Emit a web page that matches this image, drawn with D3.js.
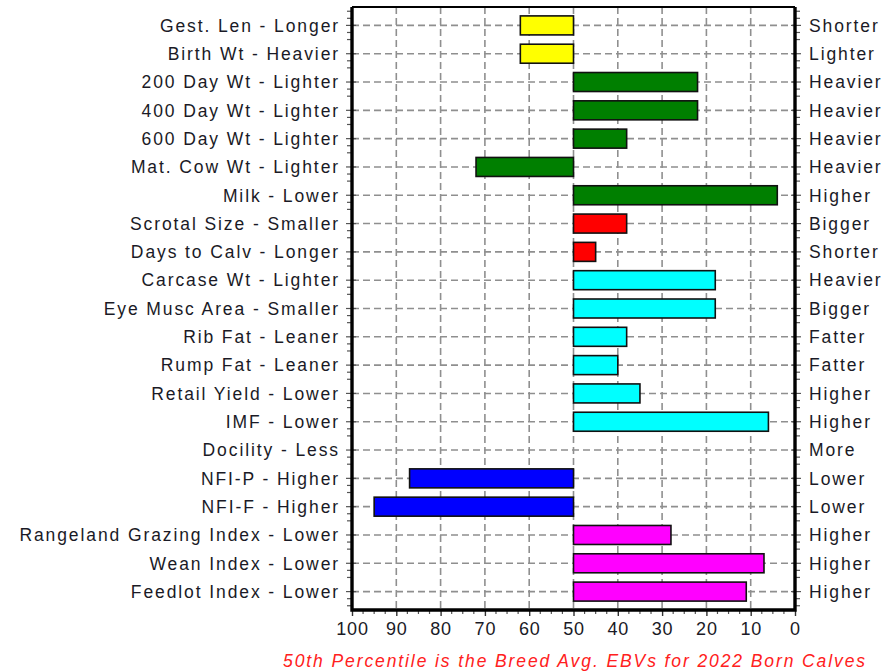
<!DOCTYPE html>
<html>
<head>
<meta charset="utf-8">
<script src="https://cdn.jsdelivr.net/npm/d3@7"></script>
<style>
  body { margin: 0; background: #fff; }
  svg { display: block; }
  text { font-family: "Liberation Sans", Arial, sans-serif; fill: #1a1a26; }
</style>
</head>
<body>
<svg id="chart" width="894" height="671"></svg>
<script>
// trait names on the left (low side) and right (high side)
var traits = ["Gest. Len - Longer", "Birth Wt - Heavier", "200 Day Wt - Lighter", "400 Day Wt - Lighter",
    "600 Day Wt - Lighter", "Mat. Cow Wt - Lighter", "Milk - Lower", "Scrotal Size - Smaller",
    "Days to Calv - Longer", "Carcase Wt - Lighter", "Eye Musc Area - Smaller", "Rib Fat - Leaner",
    "Rump Fat - Leaner", "Retail Yield - Lower", "IMF - Lower", "Docility - Less", "NFI-P - Higher",
    "NFI-F - Higher", "Rangeland Grazing Index - Lower", "Wean Index - Lower", "Feedlot Index - Lower"];

var rightLabels = ["Shorter", "Lighter", "Heavier", "Heavier", "Heavier", "Heavier", "Higher", "Bigger",
    "Shorter", "Heavier", "Bigger", "Fatter", "Fatter", "Higher", "Higher", "More", "Lower", "Lower",
    "Higher", "Higher", "Higher"];

// percentile band reached by each trait (bars run from the 50th percentile)
var percentiles = [62, 62, 22, 22, 38, 72, 4, 38, 45, 18, 18, 38, 40, 35, 6, null, 87, 95, 28, 7, 11];

// trait group for each row
var groups = ["calving", "calving", "growth", "growth", "growth", "growth", "growth", "fertility",
    "fertility", "carcase", "carcase", "carcase", "carcase", "carcase", "carcase", "temperament",
    "feed", "feed", "index", "index", "index"];

var xTicks = [100, 90, 80, 70, 60, 50, 40, 30, 20, 10, 0];
var footnote = "50th Percentile is the Breed Avg. EBVs for 2022 Born Calves";

var groupColor = {
    calving: "#ffff00", growth: "#007f00", fertility: "#ff0000", carcase: "#00ffff",
    temperament: "#888888", feed: "#0000ff", index: "#ff00ff"
};

var plot = {left: 352, right: 795, top: 7, bottom: 610};
var svg = d3.select("#chart");

var x = d3.scaleLinear().domain([100, 0]).range([plot.left, plot.right]);
var y = d3.scalePoint().domain(traits).range([plot.top, plot.bottom]).padding(0.65);
var step = y.step();
var barH = 19;

var rows = traits.map(function (t, i) {
    return {trait: t, right: rightLabels[i], value: percentiles[i], group: groups[i]};
});

// grid
var grid = svg.append("g").attr("stroke", "#8f8f8f").attr("stroke-width", 1.6)
    .attr("stroke-dasharray", "7,4");
grid.selectAll("line.v").data(xTicks.filter(function (d) { return d > 0 && d < 100; }))
    .enter().append("line").attr("class", "v")
    .attr("x1", d => x(d)).attr("x2", d => x(d))
    .attr("y1", plot.top).attr("y2", plot.bottom);
grid.selectAll("line.h").data(traits)
    .enter().append("line").attr("class", "h")
    .attr("x1", plot.left).attr("x2", plot.right)
    .attr("y1", d => y(d)).attr("y2", d => y(d));

// bars
svg.append("g").selectAll("rect").data(rows.filter(function (d) { return d.value !== null; }))
    .enter().append("rect")
    .attr("x", d => Math.min(x(50), x(d.value)))
    .attr("width", d => Math.abs(x(d.value) - x(50)))
    .attr("y", d => y(d.trait) - barH / 2)
    .attr("height", barH)
    .attr("fill", d => groupColor[d.group])
    .attr("stroke", "#111")
    .attr("stroke-width", 1.6);

// minor / major ticks on the left and right
var tickG = svg.append("g").attr("stroke", "#555").attr("stroke-width", 1.2);
var yMinor = [];
traits.forEach(function (t, i) {
    for (var k = -2; k <= 2; k++) {
        if (k === 0) continue;
        var v = y(t) + k * step / 4;
        if (v > plot.top + 1 && v < plot.bottom - 1 && (k > 0 || i === 0) ) yMinor.push(v);
    }
});
yMinor = yMinor.filter(function (v) {
    return traits.every(function (t) { return Math.abs(y(t) - v) > 2; });
});
tickG.selectAll("line.lmin").data(yMinor).enter().append("line")
    .attr("x1", plot.left - 5).attr("x2", plot.left).attr("y1", d => d).attr("y2", d => d);
tickG.selectAll("line.lmaj").data(traits).enter().append("line")
    .attr("x1", plot.left - 6).attr("x2", plot.left + 4).attr("y1", d => y(d)).attr("y2", d => y(d));
tickG.selectAll("line.rmin").data(yMinor).enter().append("line")
    .attr("x1", plot.right).attr("x2", plot.right + 5).attr("y1", d => d).attr("y2", d => d);
tickG.selectAll("line.rmaj").data(traits).enter().append("line")
    .attr("x1", plot.right - 4).attr("x2", plot.right + 6).attr("y1", d => y(d)).attr("y2", d => y(d));

// bottom axis
var xAxis = d3.axisBottom(x).tickValues(xTicks).tickSize(6).tickPadding(6);
var xMinor = d3.range(0, 100.1, 2.5).filter(function (v) { return v % 10 !== 0; });
var axG = svg.append("g").attr("transform", "translate(0," + plot.bottom + ")").call(xAxis);
axG.select(".domain").remove();
axG.selectAll(".tick line").attr("stroke", "#333").attr("stroke-width", 1.4);
axG.selectAll(".tick text").attr("font-size", 18).attr("fill", "#1a1a26")
    .style("letter-spacing", "0.8px")
    .attr("font-family", "Liberation Sans, Arial, sans-serif");
axG.selectAll("line.minor").data(xMinor).enter().append("line").attr("class", "minor")
    .attr("x1", d => x(d)).attr("x2", d => x(d)).attr("y1", 0).attr("y2", 4)
    .attr("stroke", "#555").attr("stroke-width", 1.2);

// frame
svg.append("line").attr("x1", plot.left).attr("x2", plot.right).attr("y1", plot.top).attr("y2", plot.top)
    .attr("stroke", "#000").attr("stroke-width", 2);
svg.append("path")
    .attr("d", "M" + plot.left + "," + plot.top + "V" + plot.bottom + "H" + plot.right + "V" + plot.top)
    .attr("fill", "none").attr("stroke", "#000").attr("stroke-width", 3.4);

// trait labels
svg.append("g").selectAll("text").data(rows).enter().append("text")
    .attr("x", 340).attr("y", d => y(d.trait)).attr("dy", "0.36em")
    .attr("text-anchor", "end").attr("font-size", 17.5)
    .style("letter-spacing", "1.9px")
    .text(d => d.trait);
svg.append("g").selectAll("text").data(rows).enter().append("text")
    .attr("x", 809).attr("y", d => y(d.trait)).attr("dy", "0.36em")
    .attr("font-size", 17.5)
    .style("letter-spacing", "1.9px")
    .text(d => d.right);

// footnote
svg.append("text").attr("x", 575).attr("y", 667).attr("text-anchor", "middle")
    .attr("font-size", 17.5).attr("font-style", "italic")
    .style("letter-spacing", "1.9px").style("fill", "#ff2020")
    .text(footnote);
</script>
</body>
</html>
